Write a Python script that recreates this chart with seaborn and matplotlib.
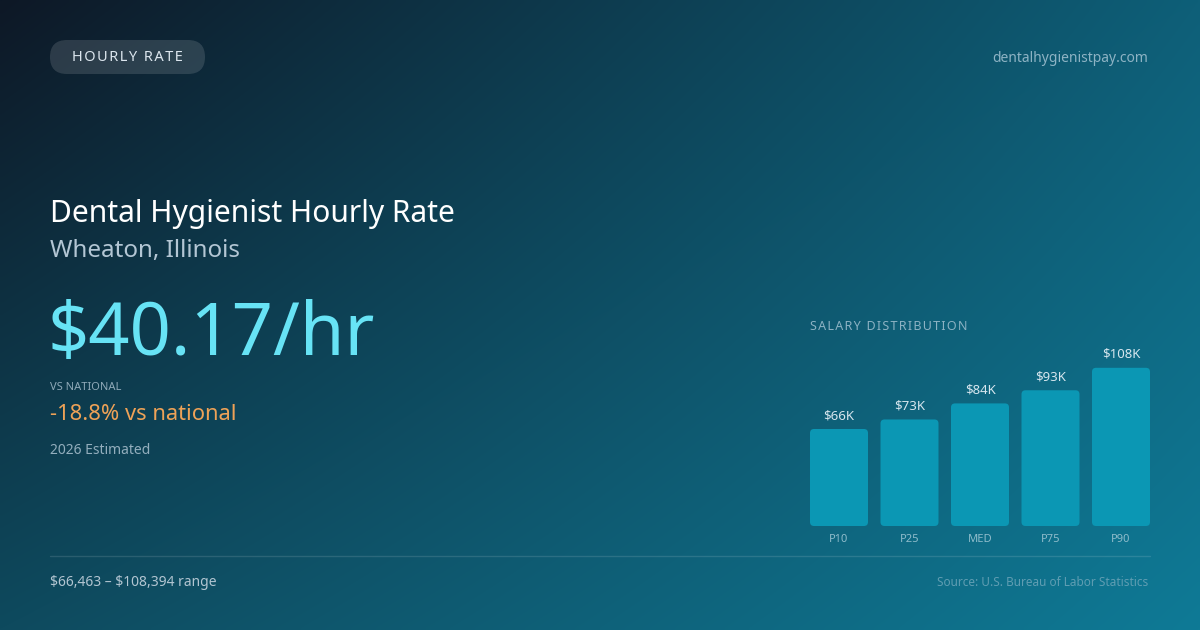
import numpy as np
import pandas as pd
import matplotlib
matplotlib.use("Agg")
import matplotlib.pyplot as plt
import seaborn as sns
from matplotlib.patches import FancyBboxPatch
from matplotlib.colors import to_rgb

# data
percentiles = ["P10", "P25", "MED", "P75", "P90"]
salaries = [66463, 73000, 84000, 93000, 108394]
bar_labels = ["$66K", "$73K", "$84K", "$93K", "$108K"]

hourly_rate = "$40.17/hr"
title = "Dental Hygienist Hourly Rate"
location = "Wheaton, Illinois"
vs_national = "-18.8% vs national"
range_text = "$66,463 \u2013 $108,394 range"

sns.set_theme(style="white")
plt.rcParams["font.family"] = ["Noto Sans", "DejaVu Sans"]
plt.rcParams["text.parse_math"] = False

W, H = 1200, 630
HS = "\u200a"  # hair space, stands in for css letter-spacing


def spaced(s):
    return HS.join(s)


fig = plt.figure(figsize=(W / 100, H / 100), dpi=100)

# full-figure axes in pixel units (y down) for background and text
bg = fig.add_axes([0, 0, 1, 1])
yy, xx = np.mgrid[0:1:160j, 0:1:300j]
tl, tr = np.array(to_rgb("#0d1826")), np.array(to_rgb("#0e5f78"))
bl, br = np.array(to_rgb("#0e4a5e")), np.array(to_rgb("#0f7a96"))
xx, yy = xx[..., None], yy[..., None]
img = (tl * (1 - xx) * (1 - yy) + tr * xx * (1 - yy)
       + bl * (1 - xx) * yy + br * xx * yy)
bg.imshow(img, aspect="auto", extent=[0, W, H, 0], interpolation="bilinear")
bg.set_xlim(0, W)
bg.set_ylim(H, 0)
bg.axis("off")

# pill
pill = FancyBboxPatch((50, 40), 155, 34, boxstyle="round,pad=0,rounding_size=17",
                      facecolor="#ffffff", alpha=0.13, edgecolor="none")
bg.add_patch(pill)
bg.text(127.5, 57.5, spaced("HOURLY RATE"), ha="center", va="center",
        fontsize=10.5, color="#dce6ee")

bg.text(1148, 58, "dentalhygienistpay.com", ha="right", va="center",
        fontsize=10, color="#8db3c4")

# headings
bg.text(50, 214, title, ha="left", va="center", fontsize=21.6, color="#ffffff")
bg.text(50, 251, location, ha="left", va="center", fontsize=17.4, color="#b3c6d4")
bg.text(48, 336, hourly_rate, ha="left", va="center", fontsize=52, color="#67e3f5")
bg.text(50, 388, "VS NATIONAL", ha="left", va="center", fontsize=8, color="#8fa9b8")
bg.text(50, 414, vs_national, ha="left", va="center", fontsize=15.8, color="#eea257")
bg.text(50, 450, "2026 Estimated", ha="left", va="center", fontsize=10, color="#93aebd")

# footer
bg.plot([50, 1150], [556, 556], color="#ffffff", alpha=0.12, linewidth=1)
bg.text(50, 582, range_text, ha="left", va="center", fontsize=10, color="#b2c5d1")
bg.text(1148, 582, "Source: U.S. Bureau of Labor Statistics", ha="right", va="center",
        fontsize=8.5, color="#5f9db2")

bg.text(810, 326, spaced("SALARY DISTRIBUTION"), ha="left", va="center",
        fontsize=9, color="#8cb2c3")

# bar chart
px_per_k = 97.0 / 66.463
ax_top, ax_bottom = 326, 526
ax = fig.add_axes([810 / W, 1 - ax_bottom / H, 340 / W, (ax_bottom - ax_top) / H])
df = pd.DataFrame({"pct": percentiles, "salary": salaries})
bw = 58 / 70.5
sns.barplot(data=df, x="pct", y="salary", color="#0b97b4", saturation=1, width=bw, ax=ax)
ax.set_xlim(-bw / 2, len(percentiles) - 1 + bw / 2)
ax.set_ylim(0, (ax_bottom - ax_top) / px_per_k * 1000)
ax.set_facecolor("none")
for s in ax.spines.values():
    s.set_visible(False)
ax.set_xlabel("")
ax.set_ylabel("")
ax.set_yticks([])
ax.tick_params(axis="x", length=0, pad=6, labelsize=8, labelcolor="#8fbccb")

# rounded bars
x_per_px = 1 / 70.5
y_per_px = 1000 / px_per_k
for p in list(ax.patches):
    x0, y0, w, h = p.get_x(), p.get_y(), p.get_width(), p.get_height()
    fc = p.get_facecolor()
    p.remove()
    r = FancyBboxPatch((x0, y0), w, h, boxstyle=f"round,pad=0,rounding_size={4 * x_per_px}",
                       mutation_aspect=y_per_px / x_per_px, facecolor=fc, edgecolor="none")
    ax.add_patch(r)

for i, (v, lab) in enumerate(zip(salaries, bar_labels)):
    ax.annotate(lab, (i, v), xytext=(0, 5), textcoords="offset points", ha="center",
                va="bottom", fontsize=9.5, color="#d6e6ee", annotation_clip=False)

fig.savefig("out.png", dpi=100)
